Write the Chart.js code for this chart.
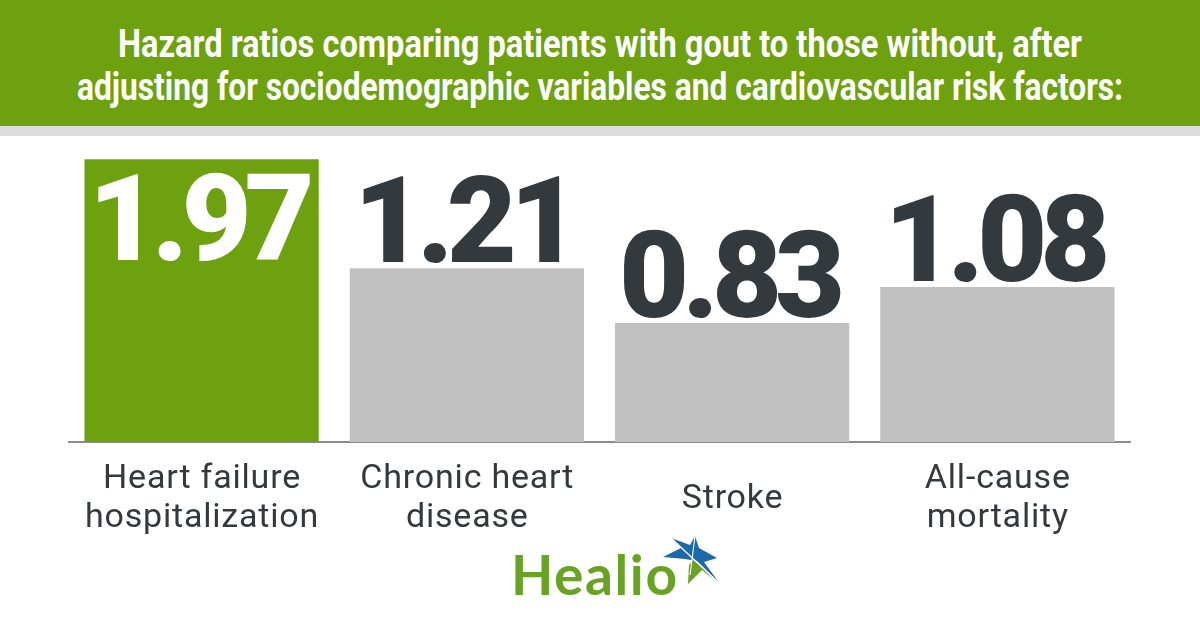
<!DOCTYPE html>
<html>
<head>
<meta charset="utf-8">
<script src="https://cdn.jsdelivr.net/npm/chart.js@4/dist/chart.umd.min.js"></script>
<style>
  html, body { margin:0; padding:0; width:1200px; height:630px; overflow:hidden; background:#ffffff; }
  #wrap { position:relative; width:1200px; height:630px; }
  #chart { position:absolute; left:0; top:0; width:1200px; height:630px; }
  #header { position:absolute; left:0; top:0; width:1200px; height:126px; background:#6ea10f; z-index:2; overflow:hidden; }
  #strip { position:absolute; left:0; top:126px; width:1200px; height:10px; background:#dcdcdc; z-index:2; }
  .tline { position:absolute; left:0; width:1200px; height:39px; color:#ffffff;
           font-family:Roboto, "Liberation Sans", sans-serif; font-weight:700; font-size:39px; line-height:39px; white-space:nowrap; }
  .tline span { position:absolute; left:50%; top:0; transform-origin:50% 50%; }
  #logo { position:absolute; left:0; top:0; z-index:3; }
  #logoText { position:absolute; left:511px; top:539px; font-family:Lato, "Open Sans", sans-serif; font-weight:700;
              font-size:55px; line-height:70px; color:#6aa324; letter-spacing:1.6px; z-index:3; }
</style>
</head>
<body>
<div id="wrap">
  <canvas id="chart" width="1200" height="630"></canvas>
  <div id="header">
    <div class="tline" id="t1" style="top:25px"><span></span></div>
    <div class="tline" id="t2" style="top:68px"><span></span></div>
  </div>
  <div id="strip"></div>
  <div id="logoText">Healio</div>
  <svg id="logo" width="1200" height="630" viewBox="0 0 1200 630">
    <polygon points="663,557 681,548 671,538 690,545 695,536 699,548 717,558 704,562 720,584 697,561 685,559" fill="#1b69a9"/>
    <polygon points="693,560 700,565 713,579 702,570 688,584 689,565" fill="#6aa324"/>
    <line x1="671" y1="538" x2="720" y2="584" stroke="#ffffff" stroke-width="1.3"/>
    <line x1="695" y1="536" x2="690" y2="575" stroke="#ffffff" stroke-width="1.1"/>
  </svg>
</div>
<script>
const titleLines = [
  "Hazard ratios comparing patients with gout to those without, after",
  "adjusting for sociodemographic variables and cardiovascular risk factors:"
];
const categories = [
  ["Heart failure", "hospitalization"],
  ["Chronic heart", "disease"],
  ["Stroke"],
  ["All-cause", "mortality"]
];
const hazardRatios = [1.97, 1.21, 0.83, 1.08];
const valueLabels = ["1.97", "1.21", "0.83", "1.08"];

const GREEN = "#6ea10f";
const GRAY = "#c1c1c1";
const DARK = "#33393d";

// Title (condensed to match)
const titleTargets = [964, 1046];
const mctx = document.createElement("canvas").getContext("2d");
mctx.font = "700 39px Roboto";
["t1","t2"].forEach((id, i) => {
  const span = document.querySelector("#" + id + " span");
  span.textContent = titleLines[i];
  const w = mctx.measureText(titleLines[i]).width;
  span.style.transform = "translateX(-50%) scaleX(" + (titleTargets[i] / w).toFixed(4) + ")";
});

function drawCentered(ctx, text, x, y, spacing) {
  ctx.letterSpacing = spacing + "px";
  const w = ctx.measureText(text).width - spacing;
  ctx.textAlign = "left";
  ctx.fillText(text, x - w / 2, y);
  ctx.letterSpacing = "0px";
}

const labelsPlugin = {
  id: "customLabels",
  afterDatasetsDraw(chart) {
    const ctx = chart.ctx;
    const meta = chart.getDatasetMeta(0);
    const area = chart.chartArea;
    ctx.save();
    ctx.textBaseline = "alphabetic";
    ctx.font = "900 121px Roboto";
    meta.data.forEach((bar, i) => {
      const inside = (bar.y - 95) < area.top;
      ctx.fillStyle = inside ? "#ffffff" : DARK;
      const baseline = inside ? bar.y + 101 : bar.y - 6;
      drawCentered(ctx, valueLabels[i], bar.x, baseline, -7);
    });
    // category labels
    const xs = chart.scales.x;
    ctx.font = "400 34px Roboto";
    ctx.fillStyle = DARK;
    categories.forEach((lines, i) => {
      const x = xs.getPixelForValue(i);
      const base = area.bottom + 46;
      const lh = 39;
      const startY = lines.length === 1 ? base + lh / 2 : base;
      lines.forEach((ln, j) => drawCentered(ctx, ln, x, startY + j * lh, 0.8));
    });
    ctx.restore();
  }
};

new Chart(document.getElementById("chart"), {
  type: "bar",
  data: {
    labels: categories.map(c => c.join(" ")),
    datasets: [{
      data: hazardRatios,
      backgroundColor: hazardRatios.map((v, i) => i === 0 ? GREEN : GRAY),
      borderWidth: 0,
      barPercentage: 0.883,
      categoryPercentage: 1.0
    }]
  },
  options: {
    responsive: false,
    animation: false,
    devicePixelRatio: 1,
    layout: { padding: { left: 69, right: 70, top: 155, bottom: 188 } },
    plugins: { legend: { display: false }, tooltip: { enabled: false }, title: { display: false } },
    scales: {
      x: {
        grid: { display: false, drawTicks: false, tickLength: 0 },
        ticks: { display: false },
        border: { display: true, color: "#8c8c8c", width: 2 }
      },
      y: {
        display: false,
        min: 0,
        max: 2.0
      }
    }
  },
  plugins: [labelsPlugin]
});
</script>
</body>
</html>
